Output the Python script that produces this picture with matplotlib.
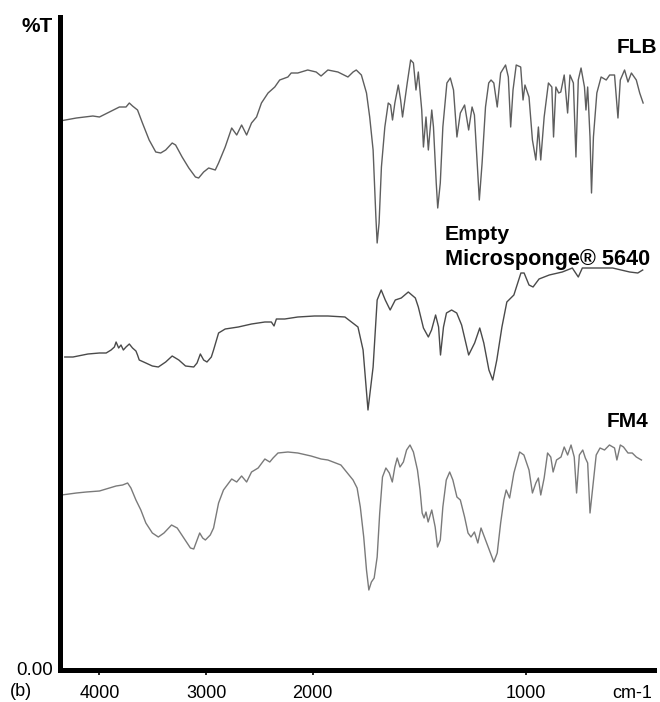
import numpy as np
import matplotlib
matplotlib.use("Agg")
import matplotlib.pyplot as plt

plt.rcParams["font.family"] = ["Liberation Sans", "DejaVu Sans"]

# Wavenumbers (cm-1) and transmittance readings for the three spectra
flb_wn = [4371, 4216, 4062, 4000, 3906, 3813, 3751, 3720, 3690, 3643, 3597, 3534, 3472, 3426,
          3379, 3318, 3286, 3225, 3162, 3100, 3070, 3023, 2976, 2914, 2883, 2821, 2760, 2713,
          2667, 2620, 2574, 2527, 2481, 2419, 2356, 2310, 2233, 2202, 2140, 2047, 1984, 1961,
          1929, 1882, 1835,
          1811, 1796, 1772, 1748, 1733, 1717, 1704, 1698, 1689, 1678, 1662, 1646, 1635, 1626,
          1615, 1599, 1588, 1579, 1568, 1557, 1541, 1528, 1516, 1505, 1489, 1481, 1469, 1458,
          1442, 1434, 1421, 1414, 1402, 1390, 1371, 1355, 1340, 1324, 1308, 1288, 1269, 1253,
          1242, 1230, 1219, 1206, 1190, 1175, 1164, 1151, 1135, 1119,
          1096, 1083, 1072, 1061, 1046, 1025, 1014, 1005, 986, 970, 954, 942, 931, 915, 895,
          879, 871, 860, 847, 837, 821, 805, 794, 778, 766, 755, 742, 726, 719, 711, 700, 693,
          684, 668, 648, 624, 608, 585, 569, 558, 538, 522, 506, 483, 467, 451]
flb_t = [54.9, 55.2, 55.4, 55.3, 55.8, 56.3, 56.3, 56.7, 56.4, 56.0, 54.7, 53.0, 51.8, 51.7,
         52.0, 52.7, 52.5, 51.3, 50.2, 49.3, 49.2, 49.8, 50.2, 50.0, 50.7, 52.3, 54.2, 53.5,
         54.5, 53.5, 54.7, 55.3, 56.7, 57.7, 58.3, 59.0, 59.3, 59.7, 59.7, 60.0, 59.8, 59.4,
         60.0, 59.8, 59.3,
         59.8, 60.0, 59.5, 57.7, 55.3, 52.0, 45.3, 42.7, 44.7, 50.3, 54.3, 56.7, 56.5, 55.0,
         56.7, 58.5, 57.0, 55.3, 57.0, 58.7, 61.0, 60.7, 58.0, 59.8, 56.0, 52.3, 55.3, 52.0,
         56.0, 54.3, 48.7, 46.2, 48.7, 54.3, 58.7, 59.2, 58.0, 53.3, 55.7, 56.5, 54.0, 56.3,
         55.5, 51.0, 47.0, 50.7, 56.3, 58.7, 59.0, 58.7, 56.3, 59.7,
         60.5, 59.3, 54.3, 58.0, 60.5, 60.3, 57.0, 58.5, 57.3, 53.0, 51.0, 54.3, 51.0, 55.3, 58.7,
         58.3, 53.3, 58.3, 57.7, 57.8, 59.5, 55.7, 59.5, 58.7, 51.3, 59.0, 60.2, 58.3, 56.0, 58.3,
         53.3, 47.7, 53.3, 57.7, 59.3, 59.0, 59.5, 59.5, 55.2, 59.0, 60.0, 58.8, 59.7, 59.0,
         57.7, 56.7]

empty_wn = [4325, 4248, 4108, 4000, 3937, 3891, 3860, 3844, 3820, 3798, 3776, 3751, 3720, 3690,
            3658, 3643, 3627, 3565, 3504, 3448, 3379, 3318, 3256, 3193, 3116, 3085, 3054, 3023,
            2992, 2951, 2930, 2883, 2821, 2698, 2574, 2449, 2388, 2363, 2341, 2263, 2140, 1992,
            1929, 1849, 1788, 1764, 1741, 1717, 1698, 1679, 1660, 1637, 1613, 1585, 1552, 1519,
            1505, 1481, 1458, 1443, 1424, 1410, 1401, 1387, 1373, 1349, 1325, 1302, 1269, 1241,
            1217, 1198, 1174, 1156, 1137, 1113, 1090, 1057, 1024, 1009, 986, 967, 939, 891, 830,
            783, 755, 736, 670, 594, 514, 476, 453]
empty_t = [31.3, 31.3, 31.6, 31.7, 31.7, 32.0, 32.3, 32.8, 32.2, 32.5, 32.0, 32.3, 32.6, 32.2,
           31.9, 31.5, 31.0, 30.7, 30.4, 30.3, 30.8, 31.4, 31.0, 30.4, 30.3, 30.7, 31.6, 31.0,
           30.8, 31.3, 32.0, 33.7, 34.1, 34.3, 34.6, 34.8, 34.8, 34.4, 35.1, 35.1, 35.3, 35.4,
           35.4, 35.3, 34.3, 32.0, 26.0, 30.3, 37.0, 38.0, 37.0, 36.0, 37.0, 37.2, 37.8, 37.2,
           36.3, 34.2, 33.3, 34.0, 35.5, 34.3, 31.5, 34.3, 35.7, 36.0, 35.7, 34.5, 31.5, 32.7,
           34.2, 32.7, 30.0, 29.0, 31.0, 34.3, 36.8, 37.5, 39.7, 39.7, 38.5, 38.3, 39.1, 39.5,
           39.8, 40.2, 39.3, 40.2, 40.2, 40.2, 39.8, 39.7, 40.0]

fm4_wn = [4356, 4216, 4123, 4000, 3906, 3844, 3783, 3736, 3705, 3658, 3612, 3565, 3504, 3448,
          3395, 3324, 3271, 3209, 3147, 3116, 3085, 3060, 3032, 3007, 2961, 2930, 2883, 2837,
          2760, 2713, 2667, 2620, 2574, 2512, 2449, 2403, 2372, 2326, 2233, 2140, 2016, 1961,
          1929, 1868,
          1811, 1792, 1777, 1761, 1748, 1737, 1725, 1712, 1698, 1686, 1673, 1657, 1641, 1627,
          1615, 1604, 1591, 1575, 1560, 1544, 1528, 1509, 1497, 1487, 1478, 1469, 1459, 1442,
          1426, 1415, 1402, 1390, 1374, 1358, 1343, 1324, 1308, 1288, 1272, 1258, 1242, 1226,
          1211, 1190, 1167, 1151, 1135, 1119,
          1104, 1093, 1077, 1057, 1030, 1010, 986, 970, 954, 942, 931, 915, 899, 884, 873, 857,
          836, 821, 805, 789, 774, 763, 750, 734, 722, 711, 700, 687, 671, 653, 632, 609, 585,
          574, 558, 543, 522, 502, 483, 459]
fm4_t = [17.5, 17.7, 17.8, 17.9, 18.2, 18.4, 18.5, 18.7, 18.2, 17.0, 16.0, 14.7, 13.7, 13.3,
         13.7, 14.5, 14.2, 13.2, 12.2, 12.1, 13.0, 13.7, 13.2, 13.0, 13.5, 14.2, 16.7, 18.0,
         19.1, 18.8, 19.4, 18.8, 19.8, 20.2, 21.1, 20.8, 21.2, 21.7, 21.8, 21.7, 21.4, 21.1,
         21.0, 20.5,
         19.0, 18.2, 16.3, 13.3, 10.0, 8.0, 8.8, 9.2, 11.3, 15.7, 19.3, 20.2, 19.7, 18.8,
         20.3, 21.2, 20.3, 20.8, 22.0, 22.5, 21.8, 20.0, 18.0, 15.7, 15.2, 15.8, 14.8, 16.0,
         14.3, 12.3, 13.0, 16.3, 19.0, 19.8, 19.0, 17.3, 17.0, 15.3, 13.7, 13.3, 13.8, 12.7,
         14.2, 13.0, 11.7, 10.8, 11.7, 14.7,
         17.0, 18.0, 17.2, 19.7, 21.8, 21.5, 20.0, 17.7, 18.7, 19.2, 17.5, 19.2, 21.7, 21.3,
         19.8, 21.0, 21.3, 22.3, 21.5, 22.5, 21.3, 17.7, 21.5, 22.0, 21.2, 20.7, 15.7, 18.3,
         21.5, 22.2, 22.0, 22.5, 22.2, 21.0, 22.5, 22.3, 21.7, 21.7, 21.3, 21.0]

x_ticks = [4000, 3000, 2000, 1000]
x_tick_labels = ["4000", "3000", "2000", "1000"]


# Wavenumber axis: above 2000 cm-1 the scale is compressed by half
def fwd(w):
    w = np.asarray(w, dtype=float)
    return np.where(w > 2000, 2000 + (w - 2000) / 2.0, w)


def inv(t):
    t = np.asarray(t, dtype=float)
    return np.where(t > 2000, 2000 + (t - 2000) * 2.0, t)


fig = plt.figure(figsize=(6.6, 7.02), dpi=100)
ax = fig.add_axes([60 / 660, 32 / 702, 594 / 660, 653 / 702])
ax.set_xscale("function", functions=(fwd, inv))
ax.set_xlim(4370, 400)
ax.set_ylim(0, 65.3)

ax.plot(flb_wn, flb_t, color="#5e5e5e", lw=1.0)
ax.plot(empty_wn, empty_t, color="#4a4a4a", lw=1.0)
ax.plot(fm4_wn, fm4_t, color="#7a7a7a", lw=1.0)

for side in ("top", "right"):
    ax.spines[side].set_visible(False)
for side in ("left", "bottom"):
    ax.spines[side].set_linewidth(3.6)
    ax.spines[side].set_color("black")
    ax.spines[side].set_capstyle("projecting")

ax.set_xticks(x_ticks)
ax.set_xticklabels(x_tick_labels)
ax.minorticks_off()
ax.tick_params(axis="x", direction="out", length=3.5, width=1.2, pad=7.0,
               labelsize=13, colors="black")
ax.set_yticks([])

# Axis annotations
fig.text(22 / 660, 1 - 32 / 702, "%T", fontsize=15, fontweight="bold", va="baseline", ha="left")
fig.text(53 / 660, 1 - 675 / 702, "0.00", fontsize=13.5, va="baseline", ha="right")
fig.text(10 / 660, 1 - 696 / 702, "(b)", fontsize=13, va="baseline", ha="left")
fig.text(632 / 660, 1 - 698 / 702, "cm-1", fontsize=13, va="baseline", ha="center")

# Spectrum labels
fig.text(657 / 660, 1 - 53 / 702, "FLB", fontsize=15, fontweight="bold", va="baseline", ha="right")
fig.text(445 / 660, 1 - 240 / 702, "Empty", fontsize=15.3, fontweight="bold", va="baseline", ha="left")
fig.text(445 / 660, 1 - 265.5 / 702, "Microsponge® 5640", fontsize=15.6, fontweight="bold",
         va="baseline", ha="left")
fig.text(648 / 660, 1 - 427 / 702, "FM4", fontsize=15, fontweight="bold", va="baseline", ha="right")

fig.savefig("out.png", dpi=100)
